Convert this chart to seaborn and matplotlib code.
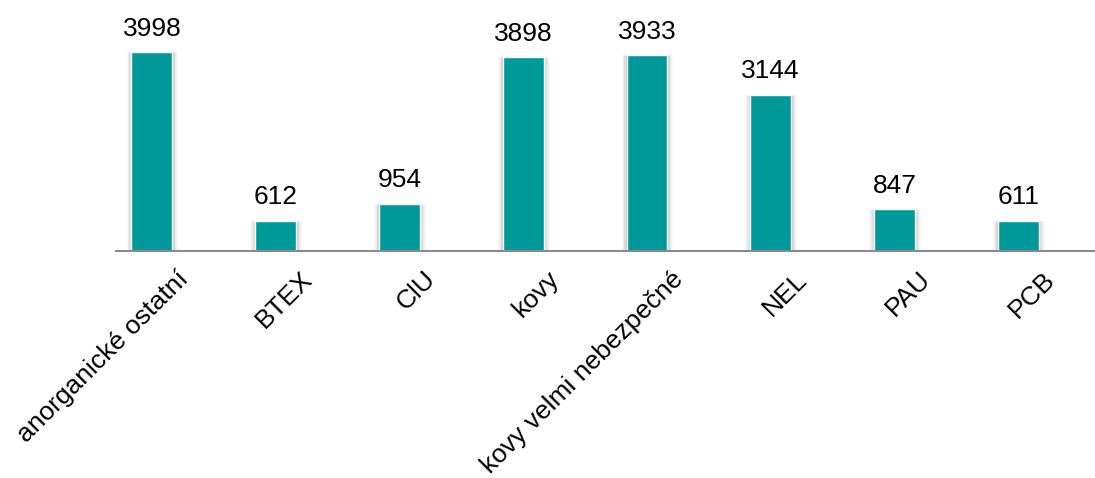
import matplotlib
matplotlib.use("Agg")
import matplotlib.pyplot as plt
import matplotlib.transforms as mtransforms
import seaborn as sns
import pandas as pd

categories = ["anorganické ostatní", "BTEX", "ClU", "kovy", "kovy velmi nebezpečné",
              "NEL", "PAU", "PCB"]
values = [3998, 612, 954, 3898, 3933, 3144, 847, 611]

sns.set_theme(style="white")
plt.rcParams["font.family"] = ["Liberation Sans", "DejaVu Sans"]

df = pd.DataFrame({"cat": categories, "val": values})

fig = plt.figure(figsize=(10.95, 4.78), dpi=100)
ax = fig.add_axes([116 / 1095, (478 - 251) / 478, 1 - 116 / 1095, 241 / 478])

# soft shadow layers
for i, (w, a) in enumerate([(0.41, 0.05), (0.38, 0.07), (0.355, 0.10)]):
    sns.barplot(data=df, x="cat", y="val", color="#000000", width=w, alpha=a,
                ax=ax, saturation=1, errorbar=None, zorder=1 + i)
sns.barplot(data=df, x="cat", y="val", color="#009999", width=0.33,
            ax=ax, saturation=1, errorbar=None, zorder=5)

ax.set_xlim(-0.29, 7.62)
ax.set_ylim(0, 3998 * 241 / 199)
ax.set_xlabel("")
ax.set_ylabel("")
ax.set_yticks([])

for spine in ["top", "right", "left"]:
    ax.spines[spine].set_visible(False)
ax.spines["bottom"].set_color("#8a8a8a")
ax.spines["bottom"].set_linewidth(1.5)
ax.spines["bottom"].set_zorder(10)

for i, v in enumerate(values):
    ax.annotate(f"{v}", xy=(i, v), xytext=(0, 8), textcoords="offset points",
                ha="center", va="bottom", fontsize=19, color="#000000")

ax.tick_params(axis="x", length=0, pad=0)
ax.set_xticks(range(len(categories)))
ax.set_xticklabels(categories, rotation=45, ha="right", va="top",
                   rotation_mode="anchor", fontsize=19, color="#000000")
offset = mtransforms.ScaledTranslation(24 / 100, -16 / 100, fig.dpi_scale_trans)
for lbl in ax.get_xticklabels():
    lbl.set_transform(lbl.get_transform() + offset)

fig.savefig("out.png", dpi=100)
